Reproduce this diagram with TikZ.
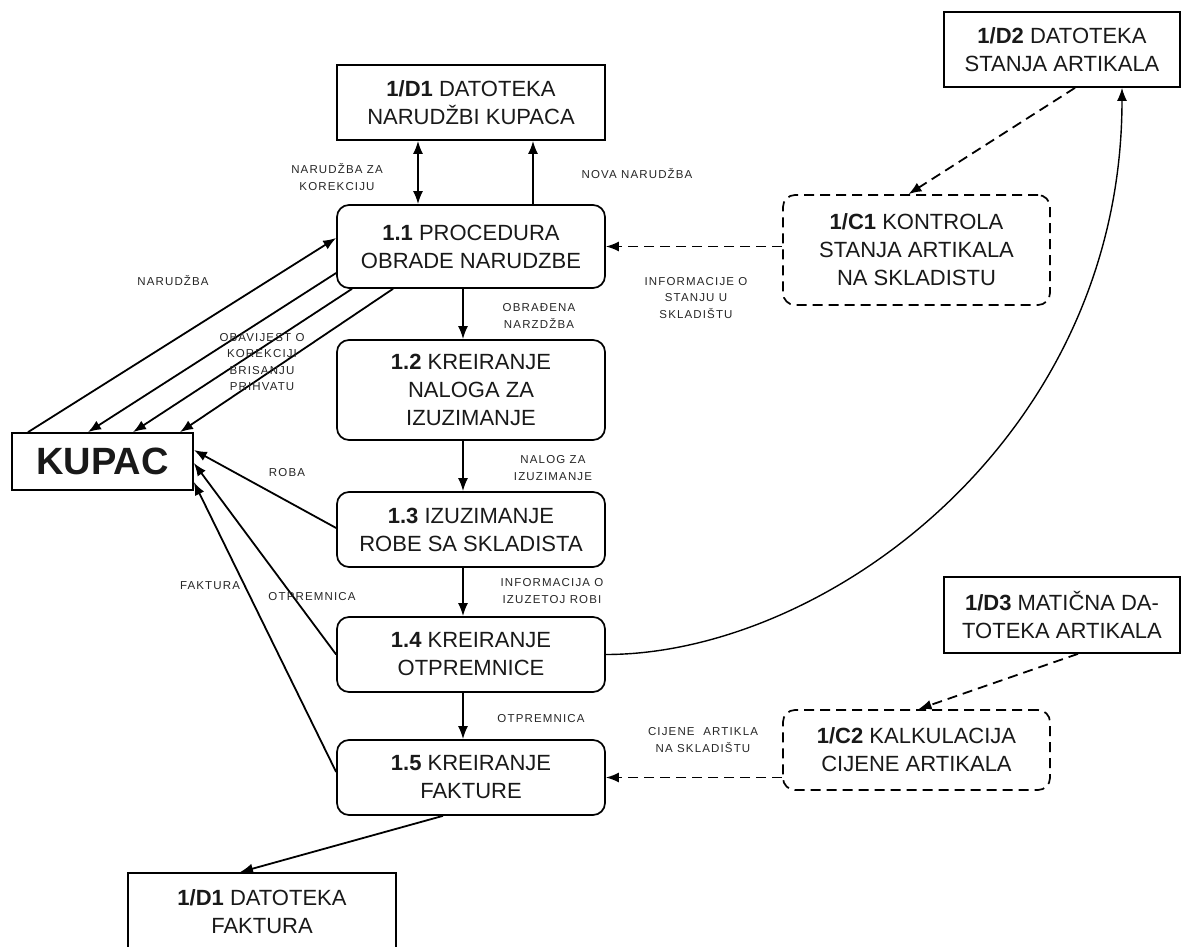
\documentclass[tikz,border=0pt]{standalone}
\usepackage{fontspec}
\setmainfont{Liberation Sans}
\newfontfamily\lblfont[LetterSpace=10]{Liberation Sans}
\usetikzlibrary{arrows.meta}
\begin{document}
\begin{tikzpicture}[x=1pt,y=-1pt,
  box/.style={draw, line width=1.7pt, align=center, font=\fontsize{22}{28}\selectfont, inner sep=0pt, text=black!90},
  sq/.style={box},
  rb/.style={box, rounded corners=12pt},
  db/.style={box, rounded corners=12pt, dash pattern=on 10pt off 6pt},
  flow/.style={line width=1.8pt, -{Latex[length=13pt,width=10pt]}},
  flowtwo/.style={line width=1.8pt, {Latex[length=13pt,width=10pt]}-{Latex[length=13pt,width=10pt]}},
  dflow/.style={flow, dash pattern=on 10pt off 6pt},
  lbl/.style={font=\lblfont\fontsize{11.5}{16.5}\selectfont, align=center, text=black!85, inner sep=0pt}]
\useasboundingbox (0,0) rectangle (1195,947);
\fill[white] (0,0) rectangle (1195,947);

% boxes
\node[sq, minimum width=268pt, minimum height=75pt] (d1) at (471,102.5) {\textbf{1/D1} DATOTEKA\\NARUDŽBI KUPACA};
\node[rb, minimum width=268pt, minimum height=83pt] (p11) at (471,246.5) {\textbf{1.1} PROCEDURA\\OBRADE NARUDZBE};
\node[rb, minimum width=268pt, minimum height=100pt] (p12) at (471,390) {\textbf{1.2} KREIRANJE\\NALOGA ZA\\IZUZIMANJE};
\node[rb, minimum width=268pt, minimum height=75pt] (p13) at (471,529.5) {\textbf{1.3} IZUZIMANJE\\ROBE SA SKLADISTA};
\node[rb, minimum width=268pt, minimum height=75pt] (p14) at (471,654.5) {\textbf{1.4} KREIRANJE\\OTPREMNICE};
\node[rb, minimum width=268pt, minimum height=75pt] (p15) at (471,777.5) {\textbf{1.5} KREIRANJE\\FAKTURE};
\node[sq, minimum width=268pt, minimum height=77pt] (ff) at (262,911.5) {\textbf{1/D1} DATOTEKA\\FAKTURA};
\node[sq, minimum width=181pt, minimum height=57pt, font=\bfseries\fontsize{38}{40}\selectfont] (kupac) at (102.5,461.5) {KUPAC};
\node[sq, minimum width=236pt, minimum height=75pt] (d2) at (1062,49.5) {\textbf{1/D2} DATOTEKA\\STANJA ARTIKALA};
\node[db, minimum width=267pt, minimum height=110pt] (c1) at (916.5,250) {\textbf{1/C1} KONTROLA\\STANJA ARTIKALA\\NA SKLADISTU};
\node[sq, minimum width=236pt, minimum height=76pt] (d3) at (1062,615) {\textbf{1/D3} MATIČNA DA-\\TOTEKA ARTIKALA};
\node[db, minimum width=267pt, minimum height=80pt] (c2) at (916.5,750) {\textbf{1/C2} KALKULACIJA\\CIJENE ARTIKALA};

% vertical flows
\draw[flowtwo] ([xshift=-53pt]d1.south) -- ([xshift=-53pt]p11.north);
\draw[flow] ([xshift=62pt]p11.north) -- ([xshift=62pt]d1.south);
\draw[flow] ([xshift=-8pt]p11.south) -- ([xshift=-8pt]p12.north);
\draw[flow] ([xshift=-8pt]p12.south) -- ([xshift=-8pt]p13.north);
\draw[flow] ([xshift=-8pt]p13.south) -- ([xshift=-8pt]p14.north);
\draw[flow] ([xshift=-8pt]p14.south) -- ([xshift=-8pt]p15.north);
\draw[flow] ([xshift=-28pt]p15.south) -- ([xshift=-22pt]ff.north);

% right side
\draw[dflow] (c1.west |- p11.east) -- (p11.east);
\draw[dflow] ([xshift=13pt]d2.south) -- ([xshift=-8pt]c1.north);
\draw[flow, line width=1.4pt] (p14.east) .. controls +(220,0) and +(0,350) .. ([xshift=60pt]d2.south);
\draw[dflow] ([xshift=16pt]d3.south) -- ([xshift=2pt]c2.north);
\draw[dflow] (c2.west |- p15.east) -- (p15.east);

% KUPAC flows
\draw[flow] ([xshift=-74.5pt]kupac.north) -- ([yshift=8.5pt]p11.west);
\draw[flow] ([yshift=-26.5pt]p11.west) -- ([xshift=-14.5pt]kupac.north);
\draw[flow] ([xshift=-119pt]p11.south) -- ([xshift=30.5pt]kupac.north);
\draw[flow] ([xshift=-78pt]p11.south) -- ([xshift=77.5pt]kupac.north);
\draw[flow] ([yshift=1.5pt]p13.west) -- ([yshift=11.5pt]kupac.east);
\draw[flow] (p14.west) -- ([yshift=-1.5pt]kupac.east);
\draw[flow] ([yshift=5.5pt]p15.west) -- ([yshift=-20.5pt]kupac.east);

% labels
\node[lbl] (lkor) at (337,177) {NARUDŽBA ZA\\KOREKCIJU};
\node[lbl] (lnova) at (637,174) {NOVA NARUDŽBA};
\node[lbl] (lnar) at (173,281) {NARUDŽBA};
\node[lbl] (lobav) at (262,362) {OBAVIJEST O\\KOREKCIJI\\BRISANJU\\PRIHVATU};
\node[lbl] (lobr) at (539,316) {OBRAĐENA\\NARZDŽBA};
\node[lbl] (linf) at (696,298) {INFORMACIJE O\\STANJU U\\SKLADIŠTU};
\node[lbl] (lnal) at (553,468) {NALOG ZA\\IZUZIMANJE};
\node[lbl] (liz) at (552,591) {INFORMACIJA O\\IZUZETOJ ROBI};
\node[lbl] (lotp) at (541,719) {OTPREMNICA};
\node[lbl] (lcij) at (703,740) {CIJENE\ \ ARTIKLA\\NA SKLADIŠTU};
\node[lbl] (lrob) at (287,473) {ROBA};
\node[lbl] (lfak) at (210,586) {FAKTURA};
\node[lbl] (lotp2) at (312,597) {OTPREMNICA};
\end{tikzpicture}
\end{document}
